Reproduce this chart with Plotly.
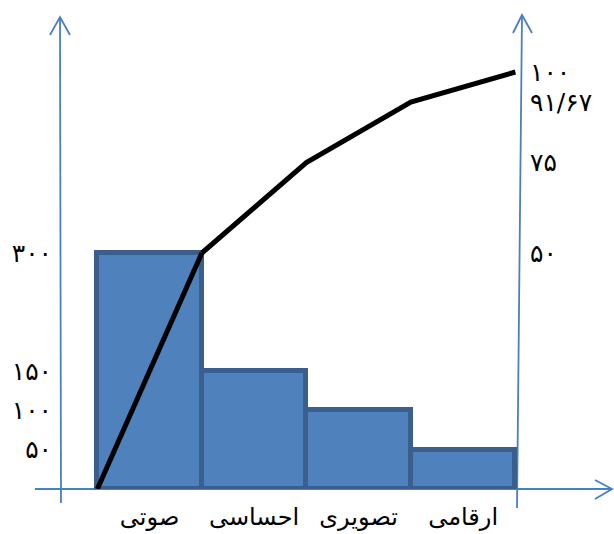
import numpy as np
import plotly.graph_objects as go

# ---- data -------------------------------------------------------------
categories = ["صوتی", "احساسی", "تصویری", "ارقامی"]
counts = [300, 150, 100, 50]

left_tick_values = [50, 100, 150, 300]
left_tick_labels = ["۵۰", "۱۰۰", "۱۵۰", "۳۰۰"]
right_tick_labels = ["۵۰", "۷۵", "۹۱/۶۷", "۱۰۰"]

cum_counts = np.cumsum(counts)
total = int(cum_counts[-1])
cum_pct = np.round(cum_counts / total * 100, 2)      # 50, 75, 91.67, 100

# ---- page geometry (pixels) ------------------------------------------
W, H = 614, 534
BASE_PX, TOP_PX = 489, 17          # y pixel of value 0 and of the axis top
UNIT_PX, X0_PX = 104.5, 149.6      # width of one category, centre of the first

AXIS_BLUE = "#4a7fc1"
BAR_FILL = "#4f81bd"
BAR_EDGE = "#3b5f8d"
FONT = "DejaVu Sans"


def px(x, y):
    """pixel position -> paper fraction"""
    return x / W, 1 - y / H


def polyline(points, width=1.8):
    d = ""
    for i, (x, y) in enumerate(points):
        fx, fy = px(x, y)
        d += ("M" if i == 0 else " L") + f" {fx:.5f},{fy:.5f}"
    return dict(type="path", xref="paper", yref="paper", path=d,
                line=dict(color=AXIS_BLUE, width=width), layer="below")


positions = np.arange(len(categories))
edges = np.arange(len(categories) + 1) - 0.5

fig = go.Figure()

fig.add_trace(go.Bar(
    x=positions, y=counts, width=1.0,
    marker=dict(color=BAR_FILL, line=dict(color=BAR_EDGE, width=5)),
    hoverinfo="skip", showlegend=False,
))

# cumulative line: first rise measured in counts, the rest in percent
fig.add_trace(go.Scatter(
    x=edges[:2], y=[0, cum_counts[0]], mode="lines",
    line=dict(color="black", width=5), yaxis="y",
    hoverinfo="skip", showlegend=False,
))
fig.add_trace(go.Scatter(
    x=edges[1:], y=cum_pct, mode="lines",
    line=dict(color="black", width=5), yaxis="y2",
    hoverinfo="skip", showlegend=False,
))

y_dom = [1 - BASE_PX / H, 1 - TOP_PX / H]

# right scale: 50 % level with the first bar, 100 % near the top
PCT_PX = (253 - 72) / 50.0
y2_lo = 50 - (BASE_PX - 253) / PCT_PX
y2_hi = 100 + (72 - TOP_PX) / PCT_PX

tick_font = dict(family=FONT, size=25, color="black")

fig.update_layout(
    width=W, height=H,
    margin=dict(l=0, r=0, t=0, b=0),
    paper_bgcolor="white", plot_bgcolor="white",
    bargap=0,
    xaxis=dict(
        domain=[0, 1],
        range=[-X0_PX / UNIT_PX, (W - X0_PX) / UNIT_PX],
        tickvals=positions, ticktext=categories,
        showgrid=False, zeroline=False, showline=False, ticks="",
        ticklabelstandoff=11,
        tickfont=dict(family=FONT, size=24, color="black"),
        fixedrange=True,
    ),
    yaxis=dict(
        domain=y_dom, range=[0, total],
        anchor="free", position=61 / W,
        tickvals=left_tick_values, ticktext=left_tick_labels,
        showgrid=False, zeroline=False, showline=False, ticks="",
        ticklabelstandoff=9,
        tickfont=tick_font,
        fixedrange=True,
    ),
    yaxis2=dict(
        domain=y_dom, range=[y2_lo, y2_hi],
        overlaying="y", side="right",
        anchor="free", position=519 / W,
        tickvals=list(cum_pct), ticktext=right_tick_labels,
        showgrid=False, zeroline=False, showline=False, ticks="",
        ticklabelstandoff=10,
        tickfont=tick_font,
        fixedrange=True,
    ),
    shapes=[
        # left axis with arrow
        polyline([(61, 503), (60, 17)]),
        polyline([(50, 35), (60, 17), (70, 35)]),
        # right axis with arrow
        polyline([(517, 508), (522, 15)]),
        polyline([(513, 33), (522, 15), (532, 33)]),
        # horizontal axis with arrow
        polyline([(35, 489), (612, 489)]),
        polyline([(595, 480), (612, 489), (595, 499)]),
    ],
)

fig.write_html("out.html")
